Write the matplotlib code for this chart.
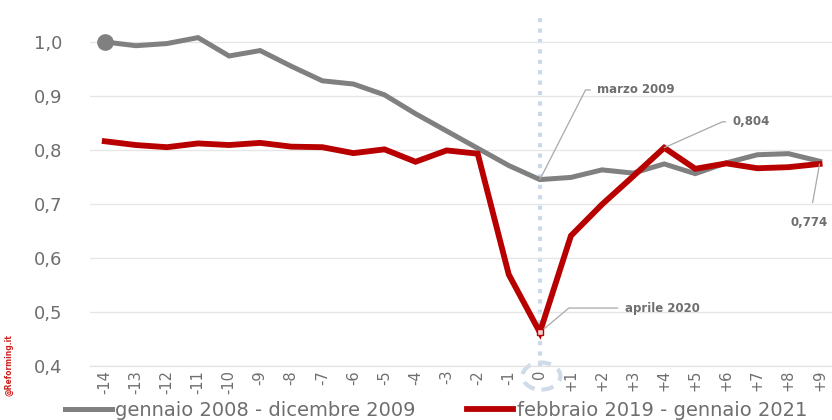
import matplotlib.pyplot as plt
from matplotlib.patches import Ellipse

# mesi rispetto al minimo (0 = marzo 2009 / aprile 2020)
mesi = list(range(-14, 10))
etichette = [str(m) if m <= 0 else "+" + str(m) for m in mesi]

crisi_2008 = [1.000, 0.993, 0.997, 1.008, 0.974, 0.984, 0.955, 0.928, 0.922, 0.902,
              0.867, 0.835, 0.803, 0.771, 0.745, 0.749, 0.763, 0.757, 0.774, 0.756,
              0.776, 0.791, 0.793, 0.779]
covid_2020 = [0.816, 0.809, 0.805, 0.812, 0.809, 0.813, 0.806, 0.805, 0.794, 0.801,
              0.778, 0.799, 0.793, 0.569, 0.462, 0.641, 0.699, 0.751, 0.804, 0.765,
              0.775, 0.766, 0.768, 0.774]

grigio = "#808080"
rosso = "#b80000"
testo = "#6e6e6e"

fig = plt.figure(figsize=(8.32, 4.2), dpi=100)
ax = fig.add_axes([0.108, 0.129, 0.892, 0.838])

ax.axvline(0, color="#c9d8ea", lw=3, ls=(0, (1, 1.5)), zorder=1)

ax.plot(mesi, crisi_2008, color=grigio, lw=3.6, solid_joinstyle="miter", zorder=3,
        label="gennaio 2008 - dicembre 2009")
ax.plot(mesi[0], crisi_2008[0], "o", color=grigio, ms=11, zorder=4)
ax.plot(mesi, covid_2020, color=rosso, lw=4.2, solid_joinstyle="miter", zorder=3,
        label="febbraio 2019 - gennaio 2021")
ax.plot(0, covid_2020[mesi.index(0)], "s", color="#f0d0d0", ms=4, mec=rosso, mew=1, zorder=5)

ax.set_xlim(-14.48, 9.4)
ax.set_ylim(0.4, 1.052)
ax.set_yticks([0.4, 0.5, 0.6, 0.7, 0.8, 0.9, 1.0])
ax.set_yticklabels(["0,4", "0,5", "0,6", "0,7", "0,8", "0,9", "1,0"])
ax.set_xticks(mesi)
ax.set_xticklabels(etichette, rotation=90)
ax.tick_params(axis="y", length=0, labelsize=13, labelcolor=testo, pad=20)
ax.tick_params(axis="x", length=0, labelsize=10.5, labelcolor=testo, pad=3)
ax.grid(axis="y", color="#e6e6e6", lw=1)
for s in ["top", "right", "left"]:
    ax.spines[s].set_visible(False)
ax.spines["bottom"].set_color("#e0e0e0")

# cerchio tratteggiato intorno allo zero
ax.add_patch(Ellipse((0.05, 0.381), 1.22, 0.05, fill=False, ec="#cfdbe9", lw=3,
                     ls=(0, (3, 2)), clip_on=False, zorder=2))

def nota(x, y, tx, ty, s, angolo):
    ax.annotate(s, xy=(x, y), xytext=(tx, ty), color=testo, fontsize=8.5,
                fontweight="bold", va="center", ha="left",
                arrowprops=dict(arrowstyle="-", color="#a8a8a8", lw=0.9,
                                connectionstyle="angle,angleA=0,angleB=%d,rad=0" % angolo,
                                shrinkA=3, shrinkB=0))

i0 = mesi.index(0)
nota(0, crisi_2008[i0], 1.85, 0.911, "marzo 2009", 63)
nota(4, covid_2020[mesi.index(4)], 6.2, 0.852, "0,804", 24)
nota(0, covid_2020[i0], 2.73, 0.507, "aprile 2020", 40)
ax.annotate("0,774", xy=(9, covid_2020[-1]), xytext=(9.26, 0.665), color=testo,
            fontsize=8.5, fontweight="bold", va="center", ha="right",
            arrowprops=dict(arrowstyle="-", color="#a8a8a8", lw=0.9, shrinkA=8, shrinkB=0))

fig.legend(loc="center left", bbox_to_anchor=(0.078, 0.022), ncol=2, frameon=False,
           fontsize=14, labelcolor=testo, handlelength=2.4, handletextpad=0.2,
           columnspacing=2.6, borderaxespad=0, borderpad=0)

fig.text(0.011, 0.131, "@Reforming.it", rotation=90, color="#d02020", fontsize=5.5,
         fontweight="bold", ha="center", va="center")

fig.savefig("out.png", dpi=100)
